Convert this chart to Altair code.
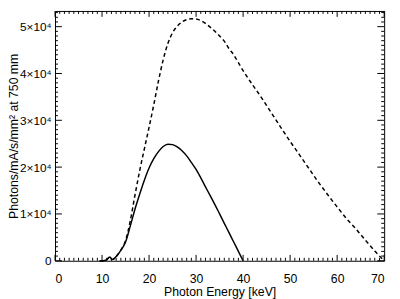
import altair as alt
import pandas as pd

# Filtered spectrum (solid)
kev_filt = [9.5, 10, 10.5, 11, 11.5, 11.7, 12.1, 12.5, 13, 14, 15, 16, 17, 18, 19, 20, 21, 22, 23, 24,
            25, 26, 27, 28, 29, 30, 31, 32, 33, 34, 35, 36, 37, 38, 39, 40]
ph_filt = [0, 0, 50, 250, 700, 800, 250, 400, 900, 2200, 4000, 7400, 11000, 14200, 17200, 19800, 21800,
           23300, 24400, 24900, 24800, 24300, 23500, 22400, 21000, 19500, 17700, 15800, 13900, 12000,
           10000, 8000, 6000, 4000, 2000, 0]

# Unfiltered spectrum (dashed)
kev_unf = [9.5, 10, 10.5, 11, 11.5, 11.7, 12.1, 12.5, 13, 14, 15, 16, 17, 18, 19, 20, 21, 22, 23, 24,
           25, 26, 27, 28, 29, 30, 31, 32, 33, 34, 35, 36, 37, 38, 39, 40, 42, 44, 46, 48, 50, 52, 54,
           56, 58, 60, 62, 64, 66, 68, 69, 70]
ph_unf = [0, 0, 50, 250, 700, 800, 250, 400, 900, 2300, 4300, 8500, 14000, 19200, 23900, 28500, 33300,
          38400, 42900, 46400, 48700, 50100, 51000, 51500, 51700, 51650, 51300, 50700, 49900, 49000,
          48000, 46900, 45300, 44000, 42300, 40600, 37600, 34700, 31600, 28500, 25500, 22600, 19700,
          16800, 14100, 11500, 9000, 6800, 4400, 2100, 1000, 0]

x_major = [0, 10, 20, 30, 40, 50, 60, 70]
x_minor = [v for v in range(0, 71) if v % 10 != 0]
y_major = [0, 10000, 20000, 30000, 40000, 50000]
y_minor = [v for v in range(0, 54000, 1000) if v % 10000 != 0]

df_f = pd.DataFrame({"keV": kev_filt, "ph": ph_filt})
df_u = pd.DataFrame({"keV": kev_unf, "ph": ph_unf})

W, H = 336, 255
xs = alt.Scale(domain=[0, 70], nice=False, zero=False)
ys = alt.Scale(domain=[0, 53350], nice=False, zero=False)
FONT = "Liberation Sans"

XAX = alt.Axis(orient="bottom", values=x_major, ticks=False, domain=False, labelPadding=12,
               labelFontSize=12.5, title="Photon Energy [keV]", titlePadding=1, format="d")
YAX = alt.Axis(orient="left", values=y_major, ticks=False, domain=False, labelPadding=4,
               labelFontSize=12,
               labelExpr="datum.value == 0 ? '0' : format(datum.value/10000, 'd') + '×10⁴'",
               title="Photons/mA/s/mm² at 750 mm", titleX=-42, titleY=H / 2, titleAngle=-90,
               titleBaseline="middle", titleAlign="center")


def xticks(values, y0, y1):
    return alt.Chart(pd.DataFrame({"keV": values})).mark_rule(color="black", strokeWidth=1).encode(
        x=alt.X("keV:Q", scale=xs, axis=XAX), y=alt.value(y0), y2=alt.value(y1))


def yticks(values, x0, x1):
    return alt.Chart(pd.DataFrame({"ph": values})).mark_rule(color="black", strokeWidth=1).encode(
        y=alt.Y("ph:Q", scale=ys, axis=YAX), x=alt.value(x0), x2=alt.value(x1))


line_f = alt.Chart(df_f).mark_line(color="black", strokeWidth=1.5, interpolate="monotone").encode(
    x=alt.X("keV:Q", scale=xs, axis=XAX),
    y=alt.Y("ph:Q", scale=ys, axis=YAX),
)
line_u = alt.Chart(df_u).mark_line(color="black", strokeWidth=1.5, strokeDash=[4, 3],
                                   interpolate="monotone").encode(
    x=alt.X("keV:Q", scale=xs, axis=XAX),
    y=alt.Y("ph:Q", scale=ys, axis=YAX),
)

chart = alt.layer(
    line_u,
    line_f,
    xticks(x_major, H, H - 6),
    xticks(x_minor, H, H - 3),
    xticks(x_major, 0, 6),
    xticks(x_minor, 0, 3),
    yticks(y_major, 0, 7),
    yticks(y_minor, 0, 3),
    yticks(y_major, W, W - 7),
    yticks(y_minor, W, W - 3),
).properties(
    width=W, height=H,
    autosize=alt.AutoSizeParams(type="none"),
    padding={"left": 48, "top": 0, "right": 8, "bottom": 36},
).configure_view(stroke="black", strokeWidth=1).configure_axis(
    labelFont=FONT, titleFont=FONT, titleFontSize=12.5, grid=False,
    titleFontWeight="normal", labelColor="black", titleColor="black",
)

chart.save("out.html", embed_options={"renderer": "svg", "actions": False})
